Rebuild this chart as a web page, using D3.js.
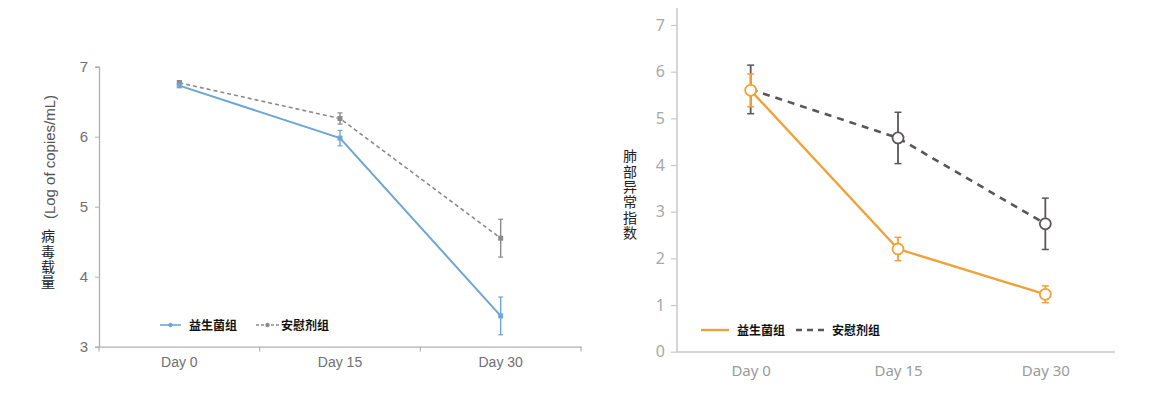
<!DOCTYPE html>
<html><head><meta charset="utf-8">
<script src="https://cdn.jsdelivr.net/npm/d3@7"></script>
<style>body{margin:0;background:#fff}</style>
</head><body>
<svg id="c" width="1151" height="395"></svg>
<script>
// ---- data ----
const days = ["Day 0", "Day 15", "Day 30"];
const seriesNames = ["益生菌组", "安慰剂组"];
// left: viral load
const leftTicks = [3, 4, 5, 6, 7];
const viralProbiotic = [6.73, 5.98, 3.44];
const viralProbioticErr = [0.03, 0.11, 0.27];
const viralPlacebo = [6.77, 6.26, 4.55];
const viralPlaceboErr = [0.03, 0.08, 0.27];
// right: lung abnormality index
const rightTicks = [0, 1, 2, 3, 4, 5, 6, 7];
const lungProbiotic = [5.6, 2.2, 1.23];
const lungProbioticErr = [0.35, 0.25, 0.18];
const lungPlacebo = [5.62, 4.58, 2.74];
const lungPlaceboErr = [0.52, 0.55, 0.55];

const svg = d3.select("#c");
const cjk = "'Noto Sans CJK SC', sans-serif";

// ================= LEFT CHART =================
(function(){
  const x = d3.scaleBand().domain(days).range([99, 581]);
  const y = d3.scaleLinear().domain([3, 7]).range([346.7, 66.7]);
  const g = svg.append("g");
  const font = "'Liberation Sans', Arial, sans-serif";
  const ya = g.append("g").attr("transform","translate(99,0)")
    .call(d3.axisLeft(y).tickValues(leftTicks).tickSize(4).tickPadding(7).tickFormat(d3.format("d")));
  ya.select(".domain").attr("stroke","#b0b0b0").attr("stroke-width",1.3);
  ya.selectAll(".tick line").attr("stroke","#b0b0b0");
  ya.selectAll("text").attr("fill","#707070").style("font-family",font).style("font-size","15px");
  const xa = g.append("g").attr("transform","translate(0,346.7)")
    .call(d3.axisBottom(x).tickSize(0).tickPadding(10));
  xa.select(".domain").attr("stroke","#b0b0b0").attr("stroke-width",1.3);
  xa.selectAll("text").attr("fill","#707070").style("font-family",font).style("font-size","14px");
  const bounds = days.map(d => x(d)).concat([x.range()[1]]);
  g.selectAll(".bt").data(bounds).enter().append("line")
    .attr("x1",d=>d).attr("x2",d=>d).attr("y1",346.7).attr("y2",351.5)
    .attr("stroke","#b0b0b0").attr("stroke-width",1.2);
  const cx = d => x(d) + x.bandwidth()/2;

  const series = [
    {vals: viralPlacebo, err: viralPlaceboErr, color:"#8a8a8a", dash:"4,3", w:1.6},
    {vals: viralProbiotic, err: viralProbioticErr, color:"#6fa6d2", dash:null, w:2}
  ];
  series.forEach(s=>{
    const line = d3.line().x((d,i)=>cx(days[i])).y(d=>y(d));
    g.append("path").datum(s.vals).attr("d",line).attr("fill","none")
      .attr("stroke",s.color).attr("stroke-width",s.w).attr("stroke-dasharray",s.dash);
    s.vals.forEach((v,i)=>{
      const px = cx(days[i]);
      g.append("line").attr("x1",px).attr("x2",px).attr("y1",y(v+s.err[i])).attr("y2",y(v-s.err[i]))
        .attr("stroke",s.color).attr("stroke-width",1.4);
      [v+s.err[i], v-s.err[i]].forEach(e=>{
        g.append("line").attr("x1",px-2.5).attr("x2",px+2.5).attr("y1",y(e)).attr("y2",y(e))
          .attr("stroke",s.color).attr("stroke-width",1.2);
      });
      g.append("rect").attr("x",px-2.5).attr("y",y(v)-2.5).attr("width",5).attr("height",5).attr("fill",s.color);
    });
  });
  const ly = 325;
  g.append("line").attr("x1",160).attr("x2",181).attr("y1",ly).attr("y2",ly).attr("stroke","#6fa6d2").attr("stroke-width",1.6);
  g.append("circle").attr("cx",170.5).attr("cy",ly).attr("r",2.2).attr("fill","#6fa6d2");
  g.append("text").attr("x",189).attr("y",ly+4.5).text(seriesNames[0])
    .style("font-family",cjk).style("font-size","12px").style("font-weight","bold").attr("fill","#111");
  g.append("line").attr("x1",256).attr("x2",279).attr("y1",ly).attr("y2",ly).attr("stroke","#8a8a8a").attr("stroke-width",1.4).attr("stroke-dasharray","3,2");
  g.append("circle").attr("cx",267.5).attr("cy",ly).attr("r",2.2).attr("fill","#8a8a8a");
  g.append("text").attr("x",281).attr("y",ly+4.5).text(seriesNames[1])
    .style("font-family",cjk).style("font-size","12px").style("font-weight","bold").attr("fill","#111");
  g.append("text").attr("transform","translate(55,157) rotate(-90)").attr("text-anchor","middle")
    .text("(Log of copies/mL)").style("font-family",font).style("font-size","15px").attr("fill","#555");
  g.append("text").attr("x",48).attr("y",229).text("病毒载量")
    .style("writing-mode","vertical-rl").style("letter-spacing","1.3px")
    .style("font-family",cjk).style("font-size","14px").attr("fill","#222");
})();

// ================= RIGHT CHART =================
(function(){
  const x = d3.scalePoint().domain(days).range([677, 1119]).padding(0.5);
  const y = d3.scaleLinear().domain([0, 7]).range([351.7, 25]);
  const g = svg.append("g");
  const font = "'Noto Sans', sans-serif";
  const ya = g.append("g").attr("transform","translate(677,0)")
    .call(d3.axisLeft(y).tickValues(rightTicks).tickSize(6).tickPadding(6).tickFormat(d3.format("d")));
  ya.select(".domain").attr("d","M0,352V8").attr("stroke","#c8c8c8").attr("stroke-width",1.5);
  ya.selectAll(".tick line").attr("stroke","#c8c8c8").attr("stroke-width",1.2);
  ya.selectAll("text").attr("fill","#a8a8a8").style("font-family",font).style("font-size","16px");
  const xa = g.append("g").attr("transform","translate(0,352)")
    .call(d3.axisBottom(x).tickSize(0).tickPadding(13));
  xa.select(".domain").attr("d","M677,0H1115").attr("stroke","#c8c8c8").attr("stroke-width",1.5);
  xa.selectAll("text").attr("fill","#9a9a9a").style("font-family",font).style("font-size","15px");

  const series = [
    {vals: lungPlacebo, err: lungPlaceboErr, color:"#5a5558", dash:"7,6", w:2.6},
    {vals: lungProbiotic, err: lungProbioticErr, color:"#f0a238", dash:null, w:2.4}
  ];
  series.forEach(s=>{
    const line = d3.line().x((d,i)=>x(days[i])).y(d=>y(d));
    g.append("path").datum(s.vals).attr("d",line).attr("fill","none")
      .attr("stroke",s.color).attr("stroke-width",s.w).attr("stroke-dasharray",s.dash);
  });
  series.forEach(s=>{
    s.vals.forEach((v,i)=>{
      const px = x(days[i]);
      g.append("line").attr("x1",px).attr("x2",px).attr("y1",y(v+s.err[i])).attr("y2",y(v-s.err[i]))
        .attr("stroke",s.color).attr("stroke-width",1.8);
      [v+s.err[i], v-s.err[i]].forEach(e=>{
        g.append("line").attr("x1",px-3.5).attr("x2",px+3.5).attr("y1",y(e)).attr("y2",y(e))
          .attr("stroke",s.color).attr("stroke-width",1.5);
      });
    });
  });
  series.forEach(s=>{
    s.vals.forEach((v,i)=>{
      if (s.color==="#5a5558" && i===0) return;
      g.append("circle").attr("cx",x(days[i])).attr("cy",y(v)).attr("r",5.5)
        .attr("fill","#fff").attr("stroke",s.color).attr("stroke-width",1.8);
    });
  });
  const ly = 330;
  g.append("line").attr("x1",701).attr("x2",729).attr("y1",ly).attr("y2",ly).attr("stroke","#f0a238").attr("stroke-width",2.4);
  g.append("text").attr("x",737).attr("y",ly+4.5).text(seriesNames[0])
    .style("font-family",cjk).style("font-size","12px").style("font-weight","bold").attr("fill","#111");
  g.append("line").attr("x1",796).attr("x2",824).attr("y1",ly).attr("y2",ly).attr("stroke","#5a5558").attr("stroke-width",2.4).attr("stroke-dasharray","6,5");
  g.append("text").attr("x",832).attr("y",ly+4.5).text(seriesNames[1])
    .style("font-family",cjk).style("font-size","12px").style("font-weight","bold").attr("fill","#111");
  g.append("text").attr("x",630).attr("y",149).text("肺部异常指数")
    .style("writing-mode","vertical-rl").style("letter-spacing","1.3px")
    .style("font-family",cjk).style("font-size","14px").attr("fill","#222");
})();
</script>
</body></html>
